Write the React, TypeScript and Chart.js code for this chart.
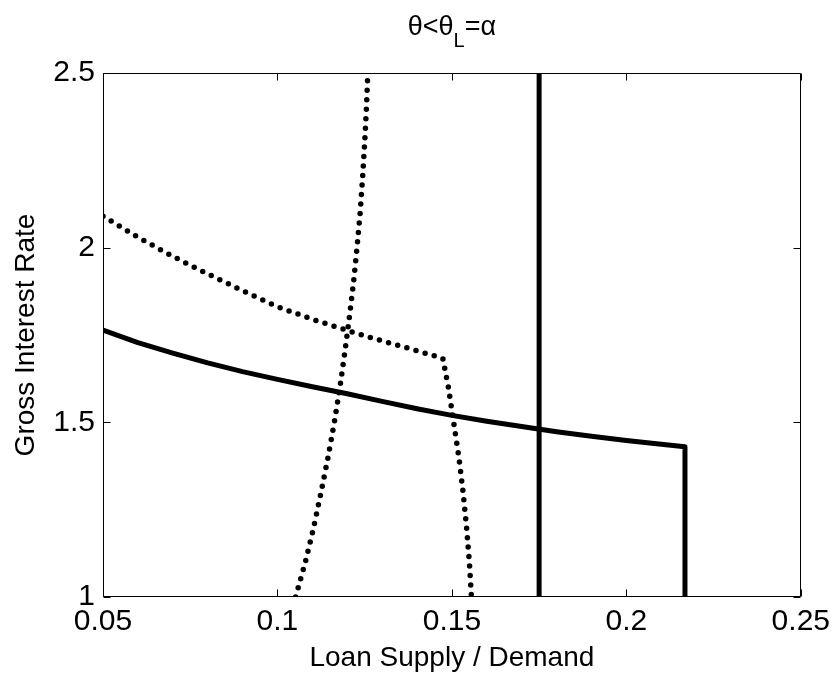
import React, { useEffect, useRef } from "react";
import { Chart, registerables } from "chart.js";

Chart.register(...registerables);

const xTicks = [0.05, 0.1, 0.15, 0.2, 0.25];
const yTicks = [1, 1.5, 2, 2.5];
const xTickLabels = ["0.05", "0.1", "0.15", "0.2", "0.25"];
const yTickLabels = ["1", "1.5", "2", "2.5"];

const supplyX = [0.05, 0.06, 0.07, 0.08, 0.09, 0.1, 0.11, 0.12, 0.13, 0.14, 0.15, 0.16, 0.17, 0.18, 0.19, 0.2, 0.21, 0.2168, 0.2168];
const supplyY = [1.764, 1.728, 1.698, 1.67, 1.645, 1.623, 1.602, 1.582, 1.56, 1.539, 1.52, 1.503, 1.488, 1.473, 1.46, 1.448, 1.437, 1.43, 1.0];

const verticalX = [0.175, 0.175];
const verticalY = [1.0, 2.5];

const dottedAX = [0.05, 0.06, 0.07, 0.08, 0.09, 0.1, 0.11, 0.12, 0.13, 0.14, 0.1474, 0.149, 0.1505, 0.152, 0.1532, 0.1542, 0.155, 0.1556];
const dottedAY = [2.09, 2.03, 1.975, 1.925, 1.877, 1.831, 1.795, 1.763, 1.733, 1.705, 1.683, 1.6, 1.5, 1.4, 1.3, 1.2, 1.1, 1.0];

const dottedBX = [0.1052, 0.108, 0.1104, 0.1125, 0.1145, 0.1163, 0.1179, 0.1193, 0.1206, 0.1218, 0.1228, 0.1237, 0.1244, 0.125, 0.1255, 0.1259];
const dottedBY = [1.0, 1.1, 1.2, 1.3, 1.4, 1.5, 1.6, 1.7, 1.8, 1.9, 2.0, 2.1, 2.2, 2.3, 2.4, 2.5];

const titleMain1 = "θ<θ";
const titleSub = "L";
const titleMain2 = "=α";

const FONT = '"Liberation Sans", Arial, Helvetica, sans-serif';

const toPoints = (xs: number[], ys: number[]) => xs.map((x, i) => ({ x, y: ys[i] }));

const framePlugin = {
  id: "frameTicksTitle",
  afterDatasetsDraw(chart: any) {
    const { ctx, chartArea, scales } = chart;
    const { left, right, top, bottom } = chartArea;
    const xs = scales.x;
    const ys = scales.y;
    ctx.save();
    ctx.strokeStyle = "#000";
    ctx.lineWidth = 1;
    const L = Math.round(left) + 0.5;
    const R = Math.round(right) - 0.5;
    const T = Math.round(top) + 0.5;
    const B = Math.round(bottom) - 0.5;
    ctx.beginPath();
    ctx.moveTo(L, T);
    ctx.lineTo(R, T);
    ctx.lineTo(R, B);
    ctx.lineTo(L, B);
    ctx.closePath();
    ctx.stroke();
    const tl = 7;
    ctx.beginPath();
    xTicks.forEach((v) => {
      const px = Math.round(xs.getPixelForValue(v)) + 0.5;
      ctx.moveTo(px, B);
      ctx.lineTo(px, B - tl);
      ctx.moveTo(px, T);
      ctx.lineTo(px, T + tl);
    });
    yTicks.forEach((v) => {
      const py = Math.round(ys.getPixelForValue(v)) + 0.5;
      ctx.moveTo(L, py);
      ctx.lineTo(L + tl, py);
      ctx.moveTo(R, py);
      ctx.lineTo(R - tl, py);
    });
    ctx.stroke();
    ctx.restore();
  },
  afterDraw(chart: any) {
    const { ctx, chartArea } = chart;
    const cx = (chartArea.left + chartArea.right) / 2;
    ctx.save();
    ctx.fillStyle = "#000";
    ctx.textBaseline = "alphabetic";
    ctx.textAlign = "left";
    const mainFont = `27px ${FONT}`;
    const subFont = `20px ${FONT}`;
    ctx.font = mainFont;
    const w1 = ctx.measureText(titleMain1).width;
    const w3 = ctx.measureText(titleMain2).width;
    ctx.font = subFont;
    const w2 = ctx.measureText(titleSub).width;
    const total = w1 + w2 + w3;
    let x = cx - total / 2;
    const base = 35;
    ctx.font = mainFont;
    ctx.fillText(titleMain1, x, base);
    x += w1;
    ctx.font = subFont;
    ctx.fillText(titleSub, x, base + 12);
    x += w2;
    ctx.font = mainFont;
    ctx.fillText(titleMain2, x, base);
    ctx.restore();
  },
};

export default function App() {
  const ref = useRef<HTMLCanvasElement | null>(null);

  useEffect(() => {
    document.body.style.margin = "0";
    const canvas = ref.current;
    if (!canvas) return;
    const chart = new Chart(canvas, {
      type: "scatter",
      data: {
        datasets: [
          {
            data: toPoints(supplyX, supplyY),
            showLine: true,
            borderColor: "#000",
            borderWidth: 5,
            borderJoinStyle: "round",
            pointRadius: 0,
          },
          {
            data: toPoints(verticalX, verticalY),
            showLine: true,
            borderColor: "#000",
            borderWidth: 5,
            pointRadius: 0,
          },
          {
            data: toPoints(dottedAX, dottedAY),
            showLine: true,
            borderColor: "#000",
            borderWidth: 5.5,
            borderDash: [0, 9.5],
            borderCapStyle: "round",
            pointRadius: 0,
          },
          {
            data: toPoints(dottedBX, dottedBY),
            showLine: true,
            borderColor: "#000",
            borderWidth: 5.5,
            borderDash: [0, 9.5],
            borderCapStyle: "round",
            pointRadius: 0,
          },
        ],
      } as any,
      options: {
        animation: false,
        responsive: false,
        layout: { padding: { top: 73, right: 35, left: 0, bottom: 0 } },
        plugins: {
          legend: { display: false },
          tooltip: { enabled: false },
          title: { display: false },
        },
        scales: {
          x: {
            type: "linear",
            min: 0.05,
            max: 0.25,
            afterFit: (s: any) => {
              s.height = 83;
            },
            afterBuildTicks: (s: any) => {
              s.ticks = xTicks.map((v) => ({ value: v }));
            },
            grid: { display: false, drawTicks: false },
            border: { display: false },
            ticks: {
              color: "#000",
              padding: 7,
              font: { family: FONT, size: 30 },
              callback: (v: any) => {
                const i = xTicks.findIndex((t) => Math.abs(t - Number(v)) < 1e-9);
                return i >= 0 ? xTickLabels[i] : "";
              },
            },
            title: {
              display: true,
              text: "Loan Supply / Demand",
              color: "#000",
              font: { family: FONT, size: 28 },
              padding: { top: 0, bottom: 5 },
            },
          },
          y: {
            type: "linear",
            min: 1,
            max: 2.5,
            afterFit: (s: any) => {
              s.width = 103;
            },
            afterBuildTicks: (s: any) => {
              s.ticks = yTicks.map((v) => ({ value: v }));
            },
            grid: { display: false, drawTicks: false },
            border: { display: false },
            ticks: {
              color: "#000",
              padding: 8,
              font: { family: FONT, size: 30 },
              callback: (v: any) => {
                const i = yTicks.findIndex((t) => Math.abs(t - Number(v)) < 1e-9);
                return i >= 0 ? yTickLabels[i] : "";
              },
            },
            title: {
              display: true,
              text: "Gross Interest Rate",
              color: "#000",
              font: { family: FONT, size: 28 },
              padding: { top: 9, bottom: 0 },
            },
          },
        },
      } as any,
      plugins: [framePlugin],
    });
    return () => chart.destroy();
  }, []);

  return (
    <div style={{ position: "absolute", left: 0, top: 0, width: 837, height: 680, background: "#fff" }}>
      <canvas ref={ref} width={837} height={680} />
    </div>
  );
}
